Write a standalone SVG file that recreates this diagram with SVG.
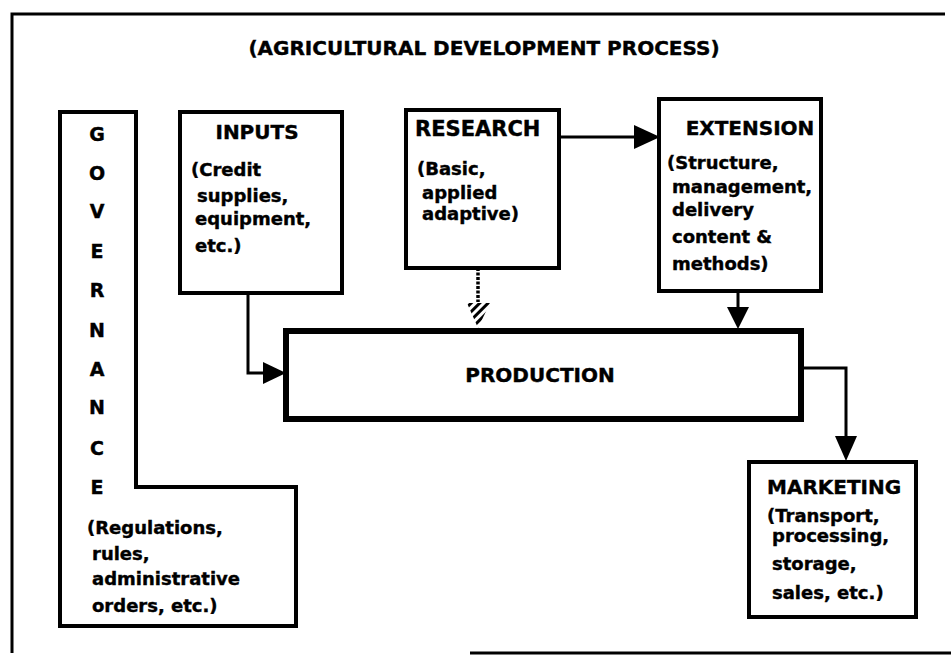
<svg xmlns="http://www.w3.org/2000/svg" width="951" height="657" viewBox="0 0 951 657">
<defs>
<style>
.box{fill:#fff;stroke:#000;stroke-width:4;stroke-linejoin:miter}
.thick{stroke-width:6}
.hd{font-family:"DejaVu Sans","Liberation Sans",sans-serif;font-weight:bold;font-size:20px;fill:#000;stroke:#000;stroke-width:0.4}
.tx{font-family:"DejaVu Sans","Liberation Sans",sans-serif;font-weight:bold;font-size:18px;fill:#000;stroke:#000;stroke-width:0.4}
.ln{fill:none;stroke:#000;stroke-width:3}
</style>
<pattern id="hatch" patternUnits="userSpaceOnUse" width="6" height="6" patternTransform="rotate(-45)">
<rect width="6" height="3" fill="#000"/>
</pattern>
</defs>
<rect x="0" y="0" width="951" height="657" fill="#fff"/>
<path d="M945,14 L12,14 L12,653 M470,653 L951,653" fill="none" stroke="#000" stroke-width="3"/>
<text class="hd" x="484" y="55" text-anchor="middle">(AGRICULTURAL DEVELOPMENT PROCESS)</text>

<g id="governance">
<path class="box" d="M60,112 L136,112 L136,487 L296,487 L296,626 L60,626 Z"/>
<g class="tx" text-anchor="middle" style="font-size:19px">
<text x="97" y="141">G</text>
<text x="97" y="180">O</text>
<text x="97" y="218">V</text>
<text x="97" y="258">E</text>
<text x="97" y="297">R</text>
<text x="97" y="337">N</text>
<text x="97" y="376">A</text>
<text x="97" y="414">N</text>
<text x="97" y="455">C</text>
<text x="97" y="494">E</text>
</g>
<text class="tx" x="87" y="534">(Regulations,</text>
<text class="tx" x="92" y="560">rules,</text>
<text class="tx" x="92" y="585">administrative</text>
<text class="tx" x="92" y="612">orders, etc.)</text>
</g>

<g id="inputs">
<rect class="box" x="180" y="112" width="162" height="181"/>
<text class="hd" x="257" y="139" text-anchor="middle">INPUTS</text>
<text class="tx" x="191" y="176">(Credit</text>
<text class="tx" x="197" y="202">supplies,</text>
<text class="tx" x="195" y="225">equipment,</text>
<text class="tx" x="195" y="252">etc.)</text>
</g>

<g id="research">
<rect class="box" x="406" y="110" width="153" height="158"/>
<text class="hd" x="415" y="136" style="font-size:21px">RESEARCH</text>
<text class="tx" x="417" y="175">(Basic,</text>
<text class="tx" x="422" y="199">applied</text>
<text class="tx" x="422" y="220">adaptive)</text>
</g>

<g id="extension">
<rect class="box" x="659" y="99" width="162" height="192"/>
<text class="hd" x="750" y="135" text-anchor="middle">EXTENSION</text>
<text class="tx" x="667" y="169">(Structure,</text>
<text class="tx" x="672" y="193">management,</text>
<text class="tx" x="672" y="216">delivery</text>
<text class="tx" x="672" y="243">content &amp;</text>
<text class="tx" x="672" y="270">methods)</text>
</g>

<g id="production">
<rect class="box thick" x="286" y="331" width="515" height="88"/>
<text class="hd" x="540" y="382" text-anchor="middle">PRODUCTION</text>
</g>

<g id="marketing">
<rect class="box" x="749" y="462" width="167" height="155"/>
<text class="hd" x="767" y="494">MARKETING</text>
<text class="tx" x="767" y="522">(Transport,</text>
<text class="tx" x="772" y="542">processing,</text>
<text class="tx" x="772" y="570">storage,</text>
<text class="tx" x="772" y="599">sales, etc.)</text>
</g>

<g id="connectors">
<path class="ln" d="M248,293 L248,373 L263,373"/>
<path d="M263,362 L286,373 L263,384 Z" fill="#000"/>
<path class="ln" d="M559,137 L634,137"/>
<path d="M634,125 L660,137 L634,149 Z" fill="#000"/>
<path class="ln" d="M738,291 L738,308"/>
<path d="M727,307 L738,329 L749,307 Z" fill="#000"/>
<path class="ln" d="M801,368 L846,368 L846,437"/>
<path d="M835,436 L846,461 L857,436 Z" fill="#000"/>
<path fill="none" stroke="#000" stroke-width="3.5" stroke-dasharray="3 1.5" d="M478,268 L478,302"/>
<path d="M467,303 L478,328 L490,303 Z" fill="url(#hatch)" stroke="none"/>
</g>
</svg>
